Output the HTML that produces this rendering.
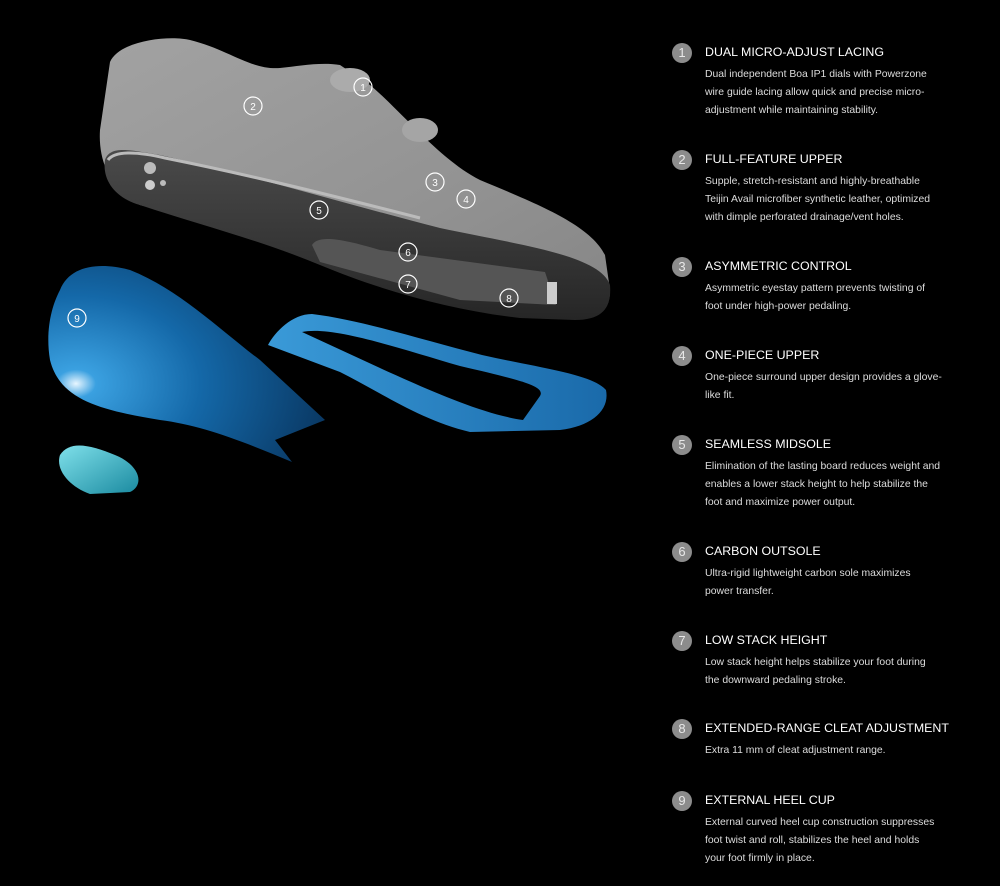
<!DOCTYPE html>
<html><head><meta charset="utf-8"><style>
html,body{margin:0;padding:0;background:#000;width:1000px;height:886px;overflow:hidden;font-family:"Liberation Sans",sans-serif}
svg{position:absolute;left:0;top:0}
.s{position:absolute;left:672px;color:#fff}
.n{position:absolute;left:0;top:-10px;width:20px;height:20px;border-radius:50%;background:#8c8c8c;color:#e8e8e8;font-size:13px;line-height:20px;text-align:center}
.t{position:absolute;left:33px;top:-8px;font-size:12.4px;white-space:nowrap;letter-spacing:0}
.b{position:absolute;left:33px;top:13px;font-size:10.4px;line-height:18px;color:#ddd;white-space:nowrap}
</style></head><body>
<svg width="1000" height="886" viewBox="0 0 1000 886">
<defs>
<linearGradient id="up" x1="0" y1="0" x2="1" y2="1"><stop offset="0" stop-color="#a2a2a2"/><stop offset="0.6" stop-color="#939393"/><stop offset="1" stop-color="#858585"/></linearGradient>
<linearGradient id="so" x1="0" y1="0" x2="0" y2="1"><stop offset="0" stop-color="#4a4a4a"/><stop offset="1" stop-color="#262626"/></linearGradient>
<radialGradient id="hc" cx="0.1" cy="0.6" r="0.9"><stop offset="0" stop-color="#e8f6ff"/><stop offset="0.08" stop-color="#3aa0e0"/><stop offset="0.5" stop-color="#1468a8"/><stop offset="1" stop-color="#0a3a66"/></radialGradient>
<linearGradient id="fr" x1="0" y1="0" x2="1" y2="0"><stop offset="0" stop-color="#3a9ad8"/><stop offset="1" stop-color="#1a6aaa"/></linearGradient>
<linearGradient id="sm" x1="0" y1="0" x2="1" y2="1"><stop offset="0" stop-color="#7fe0ea"/><stop offset="1" stop-color="#1a8aa0"/></linearGradient>
</defs>
<path d="M110 62 C120 40 170 35 190 40 C230 50 250 70 280 68 C300 66 320 62 340 65 L370 85 C400 110 440 160 480 180 C540 205 590 225 605 255 L610 290 C610 310 600 318 580 318 L140 205 C110 190 98 160 100 130 Z" fill="url(#up)"/>
<ellipse cx="350" cy="80" rx="20" ry="12" fill="#ababab"/>
<ellipse cx="420" cy="130" rx="18" ry="12" fill="#a5a5a5"/>
<path d="M105 160 C110 145 130 150 160 155 C250 175 350 205 440 228 C520 245 600 255 610 285 C612 310 600 320 575 320 L520 318 C450 310 380 290 320 265 C260 240 200 225 140 205 C115 198 102 180 105 160 Z" fill="url(#so)"/>
<path d="M108 160 C115 150 140 152 165 158 C250 175 330 195 420 218" stroke="#bbb" stroke-width="3" fill="none"/>
<circle cx="150" cy="168" r="6" fill="#bbb"/><circle cx="150" cy="185" r="5" fill="#ccc"/><circle cx="163" cy="183" r="3" fill="#bbb"/>
<path d="M312 245 C318 235 340 238 380 250 L545 272 L556 305 L460 300 L320 262 Z" fill="#555"/>
<rect x="547" y="282" width="10" height="22" fill="#ccc"/>
<path d="M60 290 C70 265 100 262 130 270 C180 290 220 330 260 360 L325 420 L300 430 L275 440 L292 462 C240 440 200 425 160 420 C100 410 60 400 50 360 C45 330 52 305 60 290 Z" fill="url(#hc)"/>
<path fill-rule="evenodd" fill="url(#fr)" d="M268 345 C275 332 292 314 312 314 C362 320 422 340 482 355 C540 368 592 374 606 390 C610 410 592 426 560 430 L470 432 C420 420 380 392 340 372 Z M302 332 C332 326 392 346 460 366 C520 380 546 386 540 396 L523 420 C480 414 420 386 380 368 Z"/>
<path d="M60 455 C70 440 90 445 115 455 C140 465 145 485 130 492 L90 494 C70 487 55 470 60 455 Z" fill="url(#sm)"/>
<g fill="none" stroke="#fff" stroke-width="1.2" font-family="Liberation Sans,sans-serif" font-size="10" text-anchor="middle">
<circle cx="363" cy="87" r="9"/><circle cx="253" cy="106" r="9"/><circle cx="435" cy="182" r="9"/><circle cx="466" cy="199" r="9"/><circle cx="319" cy="210" r="9"/><circle cx="408" cy="252" r="9"/><circle cx="408" cy="284" r="9"/><circle cx="509" cy="298" r="9"/><circle cx="77" cy="318" r="9"/>
<g fill="#fff" stroke="none"><text x="363" y="91">1</text><text x="253" y="110">2</text><text x="435" y="186">3</text><text x="466" y="203">4</text><text x="319" y="214">5</text><text x="408" y="256">6</text><text x="408" y="288">7</text><text x="509" y="302">8</text><text x="77" y="322">9</text></g>
</g>
</svg>
<div class="s" style="top:53px"><div class="n">1</div><div class="t">DUAL MICRO-ADJUST LACING</div><div class="b">Dual independent Boa IP1 dials with Powerzone<br>wire guide lacing allow quick and precise micro-<br>adjustment while maintaining stability.</div></div>
<div class="s" style="top:160px"><div class="n">2</div><div class="t">FULL-FEATURE UPPER</div><div class="b">Supple, stretch-resistant and highly-breathable<br>Teijin Avail microfiber synthetic leather, optimized<br>with dimple perforated drainage/vent holes.</div></div>
<div class="s" style="top:267px"><div class="n">3</div><div class="t">ASYMMETRIC CONTROL</div><div class="b">Asymmetric eyestay pattern prevents twisting of<br>foot under high-power pedaling.</div></div>
<div class="s" style="top:356px"><div class="n">4</div><div class="t">ONE-PIECE UPPER</div><div class="b">One-piece surround upper design provides a glove-<br>like fit.</div></div>
<div class="s" style="top:445px"><div class="n">5</div><div class="t">SEAMLESS MIDSOLE</div><div class="b">Elimination of the lasting board reduces weight and<br>enables a lower stack height to help stabilize the<br>foot and maximize power output.</div></div>
<div class="s" style="top:552px"><div class="n">6</div><div class="t">CARBON OUTSOLE</div><div class="b">Ultra-rigid lightweight carbon sole maximizes<br>power transfer.</div></div>
<div class="s" style="top:641px"><div class="n">7</div><div class="t">LOW STACK HEIGHT</div><div class="b">Low stack height helps stabilize your foot during<br>the downward pedaling stroke.</div></div>
<div class="s" style="top:729px"><div class="n">8</div><div class="t">EXTENDED-RANGE CLEAT ADJUSTMENT</div><div class="b">Extra 11 mm of cleat adjustment range.</div></div>
<div class="s" style="top:801px"><div class="n">9</div><div class="t">EXTERNAL HEEL CUP</div><div class="b">External curved heel cup construction suppresses<br>foot twist and roll, stabilizes the heel and holds<br>your foot firmly in place.</div></div>
</body></html>
